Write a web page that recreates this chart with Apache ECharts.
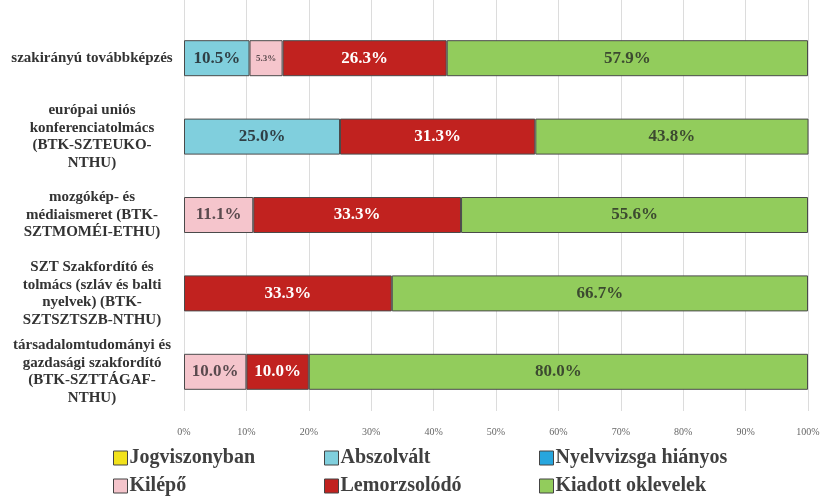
<!DOCTYPE html>
<html>
<head>
<meta charset="utf-8">
<script src="https://cdn.jsdelivr.net/npm/echarts@6/dist/echarts.min.js"></script>
<style>
  html, body { margin: 0; padding: 0; background: #fff; }
  #chart { width: 826px; height: 498px; }
</style>
</head>
<body>
<div id="chart"></div>
<script>
// kategóriák (felülről lefelé)
const categories = [
  'szakirányú továbbképzés',
  'európai uniós\nkonferenciatolmács\n(BTK-SZTEUKO-\nNTHU)',
  'mozgókép- és\nmédiaismeret (BTK-\nSZTMOMÉI-ETHU)',
  'SZT Szakfordító és\ntolmács (szláv és balti\nnyelvek) (BTK-\nSZTSZTSZB-NTHU)',
  'társadalomtudományi és\ngazdasági szakfordító\n(BTK-SZTTÁGAF-\nNTHU)'
];
const seriesNames = ['Jogviszonyban', 'Abszolvált', 'Nyelvvizsga hiányos', 'Kilépő', 'Lemorzsolódó', 'Kiadott oklevelek'];
const jogviszonyban = [0, 0, 0, 0, 0];
const abszolvalt = [10.5, 25.0, 0, 0, 0];
const nyelvvizsga = [0, 0, 0, 0, 0];
const kilepo = [5.3, 0, 11.1, 0, 10.0];
const lemorzsolodo = [26.3, 31.3, 33.3, 33.3, 10.0];
const kiadott = [57.9, 43.8, 55.6, 66.7, 80.0];
const xTicks = [0, 10, 20, 30, 40, 50, 60, 70, 80, 90, 100];

const colors = ['#f2e21c', '#80cfdd', '#27a6de', '#f5c5cc', '#c1221f', '#92cc5c'];
const labelColors = ['#333', '#2f3f45', '#222', '#5a4a4e', '#ffffff', '#3c4a30'];
const allData = [jogviszonyban, abszolvalt, nyelvvizsga, kilepo, lemorzsolodo, kiadott];
const serif = '"Liberation Serif", "DejaVu Serif", serif';

const series = seriesNames.map((name, i) => ({
  name,
  type: 'bar',
  stack: 'total',
  barWidth: 36,
  itemStyle: { color: colors[i], borderColor: '#4a4a4a', borderWidth: 1 },
  label: {
    show: true,
    position: 'inside',
    fontFamily: serif,
    fontWeight: 'bold',
    fontSize: 17,
    color: labelColors[i],
    formatter: (p) => {
      if (!p.value) return '';
      const txt = p.value.toFixed(1) + '%';
      return p.value < 7 ? '{s|' + txt + '}' : txt;
    },
    rich: { s: { fontSize: 9, fontFamily: serif, color: labelColors[i] } }
  },
  // nulla értékű szakaszokat nem rajzolunk (különben keret látszik)
  data: allData[i].map((v) => (v ? v : null))
}));

// legendák pozíciói: 3 oszlop, 2 sor
const legendPos = [
  [108, 443], [319, 443], [534, 443],
  [108, 471], [319, 471], [534, 471]
];
const legends = seriesNames.map((name, i) => ({
  data: [name],
  left: legendPos[i][0],
  top: legendPos[i][1],
  itemWidth: 14,
  itemHeight: 14,
  itemGap: 6,
  icon: 'rect',
  itemStyle: { borderColor: '#444', borderWidth: 1 },
  textStyle: { fontFamily: serif, fontSize: 20, fontWeight: 'bold', color: '#404040', padding: [0, 0, 0, -3] },
  selectedMode: false
}));

const chart = echarts.init(document.getElementById('chart'));
chart.setOption({
  animation: false,
  // második rács csak a rácsvonalakhoz, hogy a tetejéig érjenek
  grid: [
    { left: 184, right: 18, top: 19, bottom: 87 },
    { left: 184, right: 18, top: 0, bottom: 87 }
  ],
  legend: legends,
  xAxis: [{
    type: 'value',
    gridIndex: 0,
    min: 0,
    max: 100,
    interval: 10,
    axisLine: { show: false },
    axisTick: { show: false },
    splitLine: { show: false },
    axisLabel: {
      margin: 16,
      fontFamily: serif,
      fontSize: 10,
      color: '#666',
      formatter: (v) => (xTicks.includes(v) ? v + '%' : '')
    }
  }, {
    type: 'value',
    gridIndex: 1,
    min: 0,
    max: 100,
    interval: 10,
    axisLine: { show: false },
    axisTick: { show: false },
    axisLabel: { show: false },
    splitLine: { lineStyle: { color: '#dcdcdc' } }
  }],
  yAxis: [{
    type: 'category',
    gridIndex: 0,
    inverse: true,
    data: categories,
    axisLine: { show: false },
    axisTick: { show: false },
    axisLabel: {
      align: 'center',
      margin: 92,
      fontFamily: serif,
      fontWeight: 'bold',
      fontSize: 15,
      lineHeight: 17.5,
      color: '#333'
    }
  }, {
    type: 'category',
    gridIndex: 1,
    data: [''],
    show: false
  }],
  series
});
</script>
</body>
</html>
